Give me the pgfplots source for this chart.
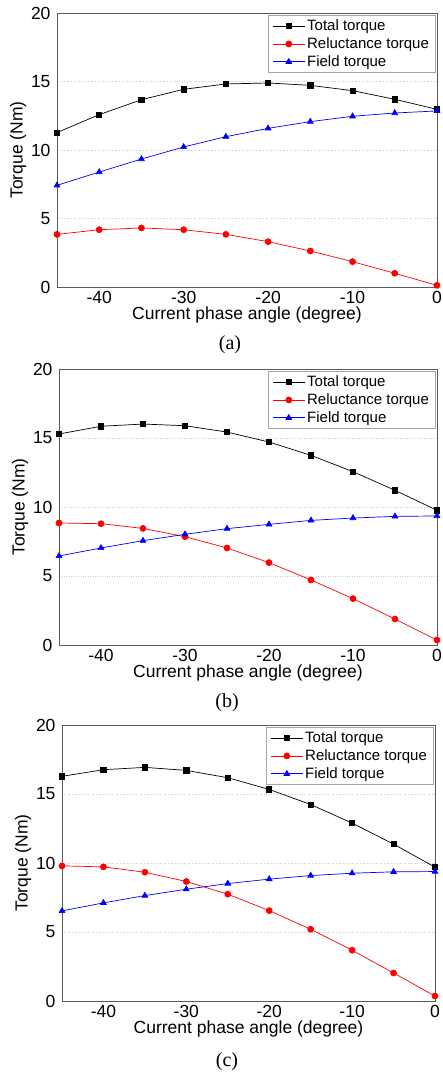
\documentclass[border=0pt]{standalone}
\usepackage{fontspec}
\setmainfont{Liberation Serif}
\newfontfamily\arial{Liberation Sans}
\usepackage{pgfplots}
\pgfplotsset{compat=1.18}
\definecolor{axgray}{HTML}{5A5A5A}

\pgfplotsset{
  torque/.style={
    scale only axis,
    xmin=-45, xmax=0, ymin=0, ymax=20,
    xtick={-40,-30,-20,-10,0},
    ytick={0,5,10,15,20},
    major tick length=0pt,
    ymajorgrids,
    grid style={dotted, gray!40},
    axis line style={axgray, line width=0.8pt},
    tick label style={font=\arial\fontsize{17.5}{20}\selectfont},
    label style={font=\arial\fontsize{17.5}{20}\selectfont},
    /pgf/number format/assume math mode=true,
    xlabel={Current phase angle (degree)},
    ylabel={Torque (Nm)},
    xticklabel style={yshift=-1pt},
    yticklabel style={xshift=-3pt},
    xlabel style={yshift=4pt},
    ylabel style={yshift=-2pt},
    legend cell align=left,
    legend style={at={(rel axis cs:0.995,0.992)}, anchor=north east,
      draw=gray!70, font=\arial\fontsize{15}{17}\selectfont,
      row sep=1.5pt, inner xsep=4pt, inner ysep=2.5pt},
    legend image code/.code={
      \draw[mark repeat=2, mark phase=2] plot coordinates {(0pt,0pt) (16pt,0pt) (32pt,0pt)};
    },
  },
  tot/.style={black, line width=0.7pt, mark=square*, mark size=2.6pt, mark options={solid}},
  rel/.style={red, line width=0.7pt, mark=*, mark size=3pt, mark options={solid}},
  fld/.style={blue, line width=0.7pt, mark=triangle*, mark size=3.3pt, mark options={solid}},
}

\begin{document}
\begin{tikzpicture}
% (a)
\begin{axis}[torque, at={(57pt,787pt)}, anchor=south west, width=380pt, height=274pt]
\addplot[tot] coordinates {(-45,11.27) (-40,12.58) (-35,13.67) (-30,14.43) (-25,14.82) (-20,14.89) (-15,14.72) (-10,14.33) (-5,13.70) (0,12.97)};
\addplot[rel] coordinates {(-45,3.84) (-40,4.18) (-35,4.31) (-30,4.18) (-25,3.84) (-20,3.31) (-15,2.63) (-10,1.85) (-5,1.00) (0,0.12)};
\addplot[fld] coordinates {(-45,7.42) (-40,8.39) (-35,9.34) (-30,10.22) (-25,10.97) (-20,11.58) (-15,12.07) (-10,12.46) (-5,12.70) (0,12.85)};
\legend{Total torque, Reluctance torque, Field torque}
\end{axis}
% (b)
\begin{axis}[torque, at={(59pt,429pt)}, anchor=south west, width=378pt, height=276pt]
\addplot[tot] coordinates {(-45,15.29) (-40,15.85) (-35,16.01) (-30,15.89) (-25,15.43) (-20,14.71) (-15,13.74) (-10,12.56) (-5,11.21) (0,9.76)};
\addplot[rel] coordinates {(-45,8.84) (-40,8.79) (-35,8.45) (-30,7.85) (-25,7.03) (-20,5.97) (-15,4.71) (-10,3.36) (-5,1.88) (0,0.36)};
\addplot[fld] coordinates {(-45,6.45) (-40,7.03) (-35,7.56) (-30,8.02) (-25,8.43) (-20,8.74) (-15,9.03) (-10,9.20) (-5,9.32) (0,9.35)};
\legend{Total torque, Reluctance torque, Field torque}
\end{axis}
% (c)
\begin{axis}[torque, at={(62pt,73pt)}, anchor=south west, width=373pt, height=276pt]
\addplot[tot] coordinates {(-45,16.28) (-40,16.76) (-35,16.93) (-30,16.71) (-25,16.18) (-20,15.33) (-15,14.24) (-10,12.89) (-5,11.37) (0,9.70)};
\addplot[rel] coordinates {(-45,9.79) (-40,9.72) (-35,9.33) (-30,8.66) (-25,7.74) (-20,6.55) (-15,5.20) (-10,3.68) (-5,2.03) (0,0.36)};
\addplot[fld] coordinates {(-45,6.53) (-40,7.11) (-35,7.64) (-30,8.10) (-25,8.51) (-20,8.83) (-15,9.09) (-10,9.26) (-5,9.36) (0,9.38)};
\legend{Total torque, Reluctance torque, Field torque}
\end{axis}
\node[font=\fontsize{20}{23}\selectfont] at (230pt,729pt) {(a)};
\node[font=\fontsize{20}{23}\selectfont] at (227pt,371pt) {(b)};
\node[font=\fontsize{20}{23}\selectfont] at (227pt,12pt) {(c)};
\pgfresetboundingbox
\useasboundingbox (0pt,0pt) rectangle (442pt,1074pt);
\end{tikzpicture}
\end{document}
